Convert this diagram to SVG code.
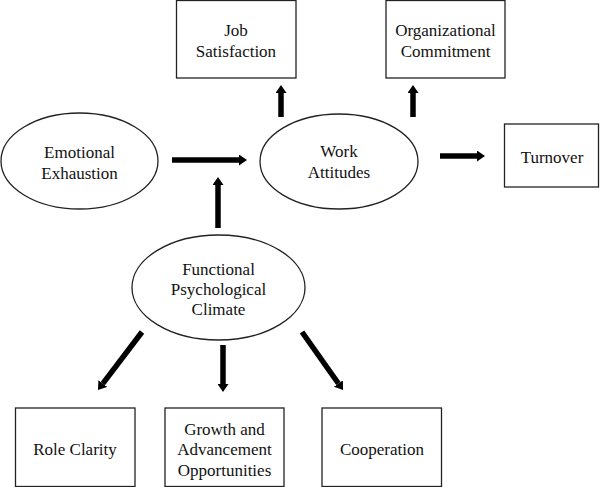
<svg xmlns="http://www.w3.org/2000/svg" width="600" height="487" viewBox="0 0 600 487">
<style>
.box{fill:#fff;stroke:#222;stroke-width:1.3}
.ell{fill:#fff;stroke:#222;stroke-width:1.3}
.lbl{font-size:17px;fill:#111;text-anchor:middle}
.arr{stroke:#000;stroke-width:5.5;fill:none;marker-end:url(#ah)}
</style>
<defs>
<marker id="ah" viewBox="0 0 8 11" refX="0" refY="5.5" markerWidth="8" markerHeight="11" markerUnits="userSpaceOnUse" orient="auto">
<path d="M0,0 L8,5.5 L0,11 z" fill="#000"/>
</marker>
</defs>
<rect width="600" height="487" fill="#fff"/>
<g id="connectors">
<line class="arr" x1="172" y1="160" x2="239" y2="160"/>
<line class="arr" x1="218" y1="228" x2="218" y2="185"/>
<line class="arr" x1="281" y1="117" x2="281" y2="93"/>
<line class="arr" x1="413" y1="117" x2="413" y2="93"/>
<line class="arr" x1="440" y1="156" x2="477" y2="156"/>
<line class="arr" x1="142" y1="332" x2="102.8" y2="383.6"/>
<line class="arr" x1="223" y1="345" x2="223" y2="384"/>
<line class="arr" x1="302" y1="332" x2="338.4" y2="383.5"/>
</g>
<g font-family="'Liberation Serif', 'DejaVu Serif', serif">
<g id="job-satisfaction">
<rect class="box" x="176.5" y="0.5" width="119.5" height="77.5"/>
<text class="lbl" x="236" y="36">Job</text>
<text class="lbl" x="236" y="57">Satisfaction</text>
</g>
<g id="organizational-commitment">
<rect class="box" x="386" y="0.5" width="119" height="77.5"/>
<text class="lbl" x="445.5" y="36">Organizational</text>
<text class="lbl" x="445.5" y="57">Commitment</text>
</g>
<g id="emotional-exhaustion">
<ellipse class="ell" cx="79.5" cy="161" rx="78.5" ry="48"/>
<text class="lbl" x="79.5" y="158">Emotional</text>
<text class="lbl" x="79.5" y="179">Exhaustion</text>
</g>
<g id="work-attitudes">
<ellipse class="ell" cx="339" cy="161.5" rx="79" ry="47.5"/>
<text class="lbl" x="339" y="157">Work</text>
<text class="lbl" x="339" y="178">Attitudes</text>
</g>
<g id="turnover">
<rect class="box" x="504.5" y="124" width="94" height="63"/>
<text class="lbl" x="552" y="163">Turnover</text>
</g>
<g id="functional-psychological-climate">
<ellipse class="ell" cx="218.5" cy="287.5" rx="86.5" ry="52.5"/>
<text class="lbl" x="218.5" y="275">Functional</text>
<text class="lbl" x="218.5" y="295">Psychological</text>
<text class="lbl" x="218.5" y="315">Climate</text>
</g>
<g id="role-clarity">
<rect class="box" x="15.5" y="408" width="119.5" height="78.5"/>
<text class="lbl" x="75" y="455">Role Clarity</text>
</g>
<g id="growth-advancement">
<rect class="box" x="165" y="408" width="119" height="78.5"/>
<text class="lbl" x="224.5" y="435">Growth and</text>
<text class="lbl" x="224.5" y="455">Advancement</text>
<text class="lbl" x="224.5" y="476">Opportunities</text>
</g>
<g id="cooperation">
<rect class="box" x="322" y="408" width="119.5" height="78.5"/>
<text class="lbl" x="382" y="455">Cooperation</text>
</g>
</g>
</svg>
